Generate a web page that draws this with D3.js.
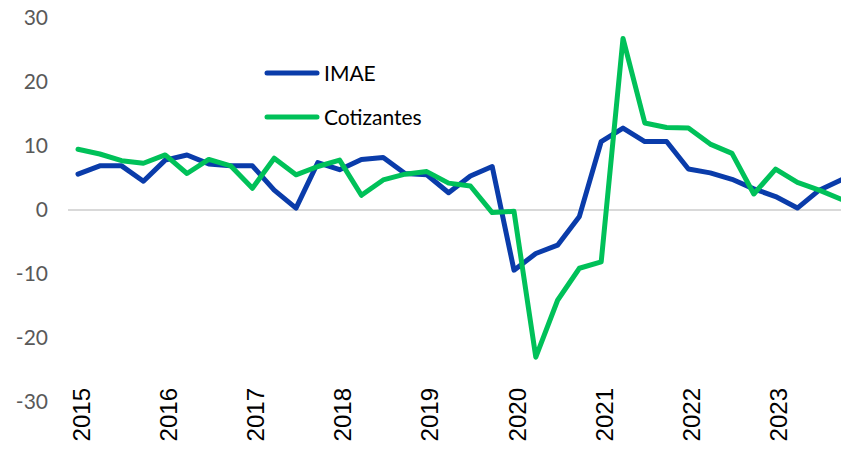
<!DOCTYPE html>
<html>
<head>
<meta charset="utf-8">
<script src="https://cdn.jsdelivr.net/npm/d3@7"></script>
<style>
  body { margin: 0; background: #fff; }
  svg { display: block; }
</style>
</head>
<body>
<svg id="chart" width="841" height="475"></svg>
<script>
// trimestres 2015T1 - 2023T4
var years = ['2015', '2016', '2017', '2018', '2019', '2020', '2021', '2022', '2023']
var quarters = []
years.forEach(function(y) {
    for (var q = 1; q <= 4; q++) quarters.push(y + 'T' + q)
})

var imae = [5.6, 6.9, 6.9, 4.5, 7.8, 8.6, 7.2, 6.9, 6.9, 3.1, 0.3, 7.4,
            6.3, 7.9, 8.2, 5.7, 5.5, 2.7, 5.3, 6.8, -9.4, -6.8, -5.5, -1.0,
            10.7, 12.8, 10.7, 10.7, 6.4, 5.8, 4.8, 3.3, 2.1, 0.3, 3.1, 4.7]

var cotizantes = [9.5, 8.75, 7.7, 7.3, 8.6, 5.7, 7.9, 6.9, 3.4, 8.1, 5.5, 6.8,
                  7.8, 2.3, 4.7, 5.6, 6.0, 4.2, 3.75, -0.4, -0.2, -23.0, -14.1, -9.1,
                  -8.1, 26.8, 13.6, 12.9, 12.8, 10.3, 8.85, 2.5, 6.4, 4.3, 3.1, 1.7]

var yTicks = [-30, -20, -10, 0, 10, 20, 30]

var series = [
    {name: 'IMAE', values: imae, color: '#0a3caa'},
    {name: 'Cotizantes', values: cotizantes, color: '#00c159'}
]

var svg = d3.select('#chart')

var x = d3.scalePoint()
    .domain(quarters)
    .range([78, 841])

var y = d3.scaleLinear()
    .domain([-30, 30])
    .range([402, 18])

// linea del cero
svg.append('line')
    .attr('x1', 68).attr('x2', 841)
    .attr('y1', y(0)).attr('y2', y(0))
    .attr('stroke', '#d9d9d9')
    .attr('stroke-width', 2)

// eje y (guion normal, no signo menos)
var yAxis = svg.append('g')
    .attr('transform', 'translate(48,0)')
    .call(d3.axisLeft(y)
        .tickValues(yTicks)
        .tickFormat(function(d) { return String(d) })
        .tickSize(0)
        .tickPadding(0))
yAxis.select('.domain').remove()
yAxis.selectAll('text')
    .attr('font-family', 'Lato, sans-serif')
    .attr('font-size', 21)
    .attr('fill', '#595959')

// eje x: solo el primer trimestre de cada año
var xAxis = svg.append('g')
    .attr('transform', 'translate(0,386)')
    .call(d3.axisBottom(x)
        .tickValues(years.map(function(y) { return y + 'T1' }))
        .tickFormat(function(d) { return d.slice(0, 4) })
        .tickSize(0))
xAxis.select('.domain').remove()
xAxis.selectAll('text')
    .attr('font-family', '"Liberation Sans", Arial, sans-serif')
    .attr('font-size', 24)
    .attr('fill', '#000')
    .attr('text-anchor', 'end')
    .attr('transform', 'translate(2,0) rotate(-90)')
    .attr('x', -2)
    .attr('y', 0)
    .attr('dy', '0.38em')

var line = d3.line()
    .x(function(d, i) { return x(quarters[i]) })
    .y(function(d) { return y(d) })

svg.selectAll('.serie')
    .data(series)
    .enter()
    .append('path')
    .attr('class', 'serie')
    .attr('d', function(d) { return line(d.values) })
    .attr('fill', 'none')
    .attr('stroke', function(d) { return d.color })
    .attr('stroke-width', 5)
    .attr('stroke-linejoin', 'round')
    .attr('stroke-linecap', 'round')

// leyenda
var legend = svg.selectAll('.leyenda')
    .data(series)
    .enter()
    .append('g')
    .attr('class', 'leyenda')
    .attr('transform', function(d, i) { return 'translate(267,' + (73 + i * 44) + ')' })

legend.append('line')
    .attr('x1', 0).attr('x2', 50)
    .attr('stroke', function(d) { return d.color })
    .attr('stroke-width', 5)
    .attr('stroke-linecap', 'round')

legend.append('text')
    .attr('x', 57)
    .attr('dy', '0.36em')
    .attr('font-family', 'Lato, sans-serif')
    .attr('font-size', 21)
    .attr('fill', '#000')
    .text(function(d) { return d.name })
</script>
</body>
</html>
